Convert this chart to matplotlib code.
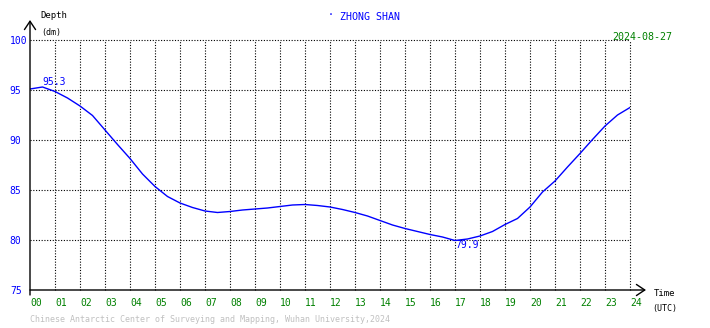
import matplotlib
matplotlib.use("Agg")
import matplotlib.pyplot as plt

# tide gauge readings, ZHONG SHAN, 2024-08-27 (read every half hour)
hours = [0, 0.5, 1, 1.5, 2, 2.5, 3, 3.5, 4, 4.5, 5, 5.5, 6, 6.5, 7, 7.5,
         8, 8.5, 9, 9.5, 10, 10.5, 11, 11.5, 12, 12.5, 13, 13.5, 14, 14.5,
         15, 15.5, 16, 16.5, 17, 17.5, 18, 18.5, 19, 19.5, 20, 20.5, 21,
         21.5, 22, 22.5, 23, 23.5, 24]
depth = [95.1, 95.3, 94.85, 94.2, 93.4, 92.45, 91.0, 89.55, 88.15, 86.6,
         85.35, 84.35, 83.7, 83.25, 82.9, 82.75, 82.85, 83.0, 83.1, 83.2,
         83.35, 83.5, 83.55, 83.45, 83.3, 83.05, 82.75, 82.4, 81.95, 81.5,
         81.15, 80.85, 80.55, 80.3, 79.95, 80.1, 80.4, 80.85, 81.55, 82.15,
         83.3, 84.8, 85.9, 87.3, 88.65, 90.05, 91.4, 92.5, 93.25]

x_ticks = list(range(0, 25))
x_labels = ["%02d" % h for h in x_ticks]
y_ticks = [75, 80, 85, 90, 95, 100]
y_labels = [str(v) for v in y_ticks]

max_time, max_label = 0.5, "95.3"
min_time, min_label = 17.0, "79.9"

station = "ZHONG SHAN"
date_str = "2024-08-27"
footer = "Chinese Antarctic Center of Surveying and Mapping, Wuhan University,2024"

W, H = 710, 328
MONO = "DejaVu Sans Mono"

fig = plt.figure(figsize=(W / 100, H / 100), dpi=100)
fig.patch.set_facecolor("white")
ax = fig.add_axes([30 / W, 38 / H, 600 / W, 250 / H])

ax.plot(hours, depth, color="#0000ff", lw=1.0)

ax.set_xlim(0, 24)
ax.set_ylim(75, 100)
ax.set_xticks(x_ticks)
ax.set_xticklabels(x_labels, fontsize=7, color="#008000", family=MONO, ha="left")
ax.set_yticks(y_ticks)
ax.set_yticklabels(y_labels, fontsize=7, color="#0000ff", family=MONO, ha="left")
ax.tick_params(axis="both", length=0)
ax.tick_params(axis="x", pad=6)
ax.tick_params(axis="y", pad=14.5)

for s in ax.spines.values():
    s.set_visible(False)

ax.grid(True, color="black", linestyle=(0, (1, 1.5)), lw=0.8)
for ln in ax.get_xgridlines() + ax.get_ygridlines():
    ln.set_clip_on(False)
# no grid on the axis lines themselves
ax.get_xgridlines()[0].set_visible(False)
ax.get_ygridlines()[0].set_visible(False)

# axis lines with open arrow heads
arrow = dict(arrowstyle="->,head_length=0.6,head_width=0.4", lw=1.0,
             color="black", shrinkA=0, shrinkB=0)
ax.annotate("", xy=(0, 270 / 250), xytext=(0, -5 / 250),
            xycoords="axes fraction", arrowprops=arrow, annotation_clip=False)
ax.annotate("", xy=(616 / 600, 0), xytext=(0, 0),
            xycoords="axes fraction", arrowprops=arrow, annotation_clip=False)

# extreme labels
ax.text(max_time, max(depth), max_label, color="#0000ff", fontsize=7,
        family=MONO, ha="left", va="bottom")
ax.text(min_time, min(depth), min_label, color="#0000ff", fontsize=7,
        family=MONO, ha="left", va="top")


def ftext(x, y, s, **kw):
    fig.text(x / W, 1 - y / H, s, family=MONO, **kw)


ftext(40, 16, "Depth", fontsize=6.5, color="black", va="center")
ftext(41, 33, "(dm)", fontsize=6, color="black", va="center")
ftext(654, 294, "Time", fontsize=6.5, color="black", va="center")
ftext(652, 309, "(UTC)", fontsize=6, color="black", va="center")
ftext(328, 15, "\u00b7", fontsize=7, color="#0000ff", va="center")
ftext(340, 17, station, fontsize=7.2, color="#0000ff", va="center")
ftext(612, 37, date_str, fontsize=7.2, color="#008000", va="center")
ftext(30, 320, footer, fontsize=6, color="#c0c0c0", va="center")

fig.savefig("out.png", dpi=100)
